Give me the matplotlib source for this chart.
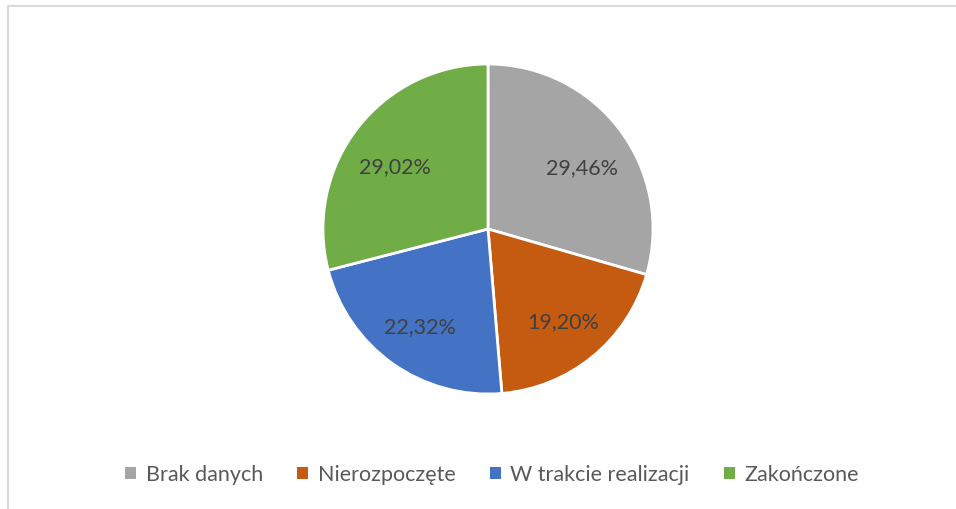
import matplotlib
matplotlib.use("Agg")
import matplotlib.pyplot as plt
from matplotlib.lines import Line2D
from matplotlib.patches import Patch

plt.rcParams['font.family'] = ['Lato', 'DejaVu Sans']

categories = ["Brak danych", "Nierozpoczęte", "W trakcie realizacji", "Zakończone"]
shares = [29.46, 19.20, 22.32, 29.02]
colors = ["#A5A5A5", "#C55A11", "#4472C4", "#70AD47"]

W, H = 956, 509
fig = plt.figure(figsize=(W / 100, H / 100), dpi=100)

# pie centre and radius in pixels
cx, cy, r = 488, 229, 165
ax = fig.add_axes([(cx - r) / W, (H - cy - r) / H, 2 * r / W, 2 * r / H])

labels_txt = [f"{v:.2f}%".replace(".", ",") for v in shares]
wedges, texts = ax.pie(shares, colors=colors, startangle=90, counterclock=False,
                       labels=labels_txt, labeldistance=0.68,
                       wedgeprops=dict(edgecolor="white", linewidth=2),
                       textprops=dict(color="#404040", fontsize=15.5))
for t in texts:
    t.set_horizontalalignment("center")
    t.set_verticalalignment("center")
    x, y = t.get_position()
    t.set_position((x * 1.05, y - 0.04))
ax.set_xlim(-1, 1)
ax.set_ylim(-1, 1)
ax.set_aspect("equal")

# chart frame (only top and left edges visible)
fig.add_artist(Line2D([7.5 / W, 7.5 / W], [0, 1 - 5.5 / H], transform=fig.transFigure,
                      color="#D9D9D9", lw=1.5))
fig.add_artist(Line2D([7.5 / W, 1], [1 - 5.5 / H, 1 - 5.5 / H], transform=fig.transFigure,
                      color="#D9D9D9", lw=1.5))

handles = [Patch(facecolor=c, edgecolor="none") for c in colors]
leg = fig.legend(handles, categories, loc="center", bbox_to_anchor=(492 / W, 1 - 475 / H),
                 ncol=4, frameon=False, fontsize=15.5, handlelength=0.5, handleheight=0.5,
                 handletextpad=0.45, columnspacing=1.6)
for t in leg.get_texts():
    t.set_color("#595959")

fig.savefig("out.png", dpi=100)
